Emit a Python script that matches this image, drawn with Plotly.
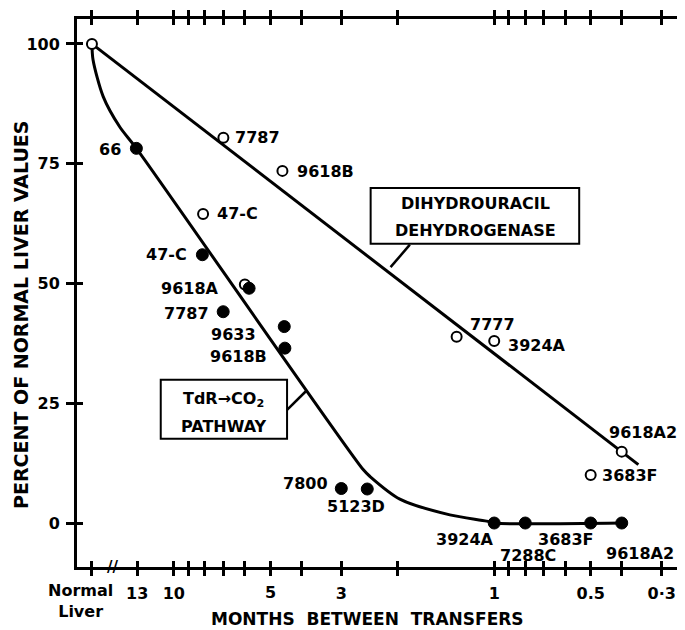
import numpy as np
import plotly.graph_objects as go

NORMAL = 18  # axis position used for "Normal Liver"

# Dihydrouracil dehydrogenase (open circles)
dhd_lines = ["Normal", "7787", "9618B", "47-C", "9618A", "7777", "3924A", "9618A2", "3683F"]
dhd_months = [NORMAL, 7.0, 4.58, 8.1, 6.0, 1.31, 1.0, 0.40, 0.50]
dhd_pct = [100, 80.4, 73.5, 64.5, 49.8, 38.9, 38.0, 14.9, 10.0]

# TdR -> CO2 pathway (filled circles)
tdr_lines = ["66", "47-C", "9618A", "7787", "9633", "9618B", "7800", "5123D",
             "3924A", "7288C", "3683F", "9618A2"]
tdr_months = [13.08, 8.14, 5.82, 7.01, 4.52, 4.50, 3.0, 2.49, 1.0, 0.80, 0.50, 0.40]
tdr_pct = [78.2, 56.0, 49.0, 44.1, 41.0, 36.5, 7.2, 7.1, 0, 0, 0, 0]

# drawn trend lines
dhd_fit_months = [NORMAL, 0.355]
dhd_fit_pct = [100, 12.2]
tdr_fit_months = [NORMAL, 17.86, 16.6, 14.75, 13.08, 2.56, 2.44, 1.97, 1.375, 1.056, 1.0, 0.4]
tdr_fit_pct = [100, 96.7, 89.0, 82.7, 78.2, 11.1, 9.7, 5.0, 1.7, 0.4, 0, 0]

# axes
x_tick_vals = [NORMAL, 13, 10, 9, 8, 7, 6, 5, 4, 3, 2, 1, 0.9, 0.8, 0.7, 0.6, 0.5, 0.4, 0.3]
x_tick_text = ["", "13", "10", "", "", "", "", "", "", "3", "", "1", "", "", "", "", "0.5", "", "0·3"]
x_extra_label_vals = [5]
x_extra_label_text = ["5"]
y_tick_vals = [0, 25, 50, 75, 100]
y_tick_text = ["0", "25", "50", "75", "100"]

# label placements (text, months, percent, anchor)
dhd_labels = [("7787", 6.53, 80.4, "left"), ("9618B", 4.19, 73.3, "left"),
              ("47-C", 7.45, 64.7, "left"), ("7777", 1.208, 41.4, "left"),
              ("3924A", 0.919, 37.1, "left"), ("9618A2", 0.445, 18.9, "left"),
              ("3683F", 0.468, 9.9, "left")]
tdr_labels = [("66", 14.45, 77.9, "right"), ("47-C", 8.96, 56.0, "right"),
              ("9618A", 7.10, 49.0, "right"), ("7787", 7.63, 43.8, "right"),
              ("9633", 5.47, 39.3, "right"), ("9618B", 5.05, 34.8, "right"),
              ("7800", 3.26, 8.3, "right"), ("5123D", 2.70, 3.5, "center"),
              ("3924A", 1.235, -3.4, "center"), ("7288C", 0.785, -6.7, "center"),
              ("3683F", 0.601, -3.5, "center"), ("9618A2", 0.351, -6.3, "center")]

FONT = "DejaVu Sans"
lab_font = dict(family=FONT, size=16, color="black", weight="bold")
L = np.log10

fig = go.Figure()
fig.add_trace(go.Scatter(x=dhd_fit_months, y=dhd_fit_pct, mode="lines",
                         line=dict(color="black", width=3), hoverinfo="skip"))
fig.add_trace(go.Scatter(x=tdr_fit_months, y=tdr_fit_pct, mode="lines",
                         line=dict(color="black", width=3, shape="spline", smoothing=0.8),
                         hoverinfo="skip"))
fig.add_trace(go.Scatter(x=dhd_months, y=dhd_pct, mode="markers", text=dhd_lines,
                         marker=dict(symbol="circle", size=10, color="white",
                                     line=dict(color="black", width=2))))
fig.add_trace(go.Scatter(x=tdr_months, y=tdr_pct, mode="markers", text=tdr_lines,
                         marker=dict(symbol="circle", size=12, color="black",
                                     line=dict(color="black", width=1))))
# invisible trace to anchor the tick-overlay axes
fig.add_trace(go.Scatter(x=[NORMAL], y=[100], xaxis="x2", yaxis="y2", mode="markers",
                         marker=dict(opacity=0), hoverinfo="skip"))

ann = []
for t, xm, yp, anc in dhd_labels + tdr_labels:
    ann.append(dict(x=L(xm), y=yp, xref="x", yref="y", text=t, showarrow=False,
                    xanchor=anc, yanchor="middle", font=lab_font))

for v, t in zip(x_extra_label_vals, x_extra_label_text):
    ann.append(dict(x=L(v), y=-0.0465, xref="x", yref="paper", text=t, showarrow=False,
                    xanchor="center", yanchor="middle", font=lab_font))

# boxes (shapes take raw axis values)
box_dhd = dict(x0=2.43, x1=0.543, y0=58.3, y1=69.9)
box_tdr = dict(x0=10.98, x1=4.43, y0=17.6, y1=29.9)
shapes = []
for b in (box_dhd, box_tdr):
    shapes.append(dict(type="rect", xref="x", yref="y", x0=b["x0"], x1=b["x1"],
                       y0=b["y0"], y1=b["y1"], line=dict(color="black", width=2),
                       fillcolor="rgba(0,0,0,0)", layer="above"))
shapes.append(dict(type="line", xref="x", yref="y", x0=1.833, y0=58.1, x1=2.106, y1=53.4,
                   line=dict(color="black", width=2.5)))
shapes.append(dict(type="line", xref="x", yref="y", x0=4.43, y0=23.6, x1=3.87, y1=27.5,
                   line=dict(color="black", width=2.5)))

ann.append(dict(x=L(1.147), y=66.6, xref="x", yref="y", text="DIHYDROURACIL", showarrow=False,
                font=lab_font, xanchor="center", yanchor="middle"))
ann.append(dict(x=L(1.147), y=61.0, xref="x", yref="y", text="DEHYDROGENASE", showarrow=False,
                font=lab_font, xanchor="center", yanchor="middle"))
ann.append(dict(x=L(6.97), y=25.7, xref="x", yref="y", text="TdR\u2192CO<sub>2</sub>", showarrow=False,
                font=lab_font, xanchor="center", yanchor="middle"))
ann.append(dict(x=L(6.97), y=20.2, xref="x", yref="y", text="PATHWAY", showarrow=False,
                font=lab_font, xanchor="center", yanchor="middle"))

# axis labels
ann.append(dict(x=0.0066, y=-0.062, xref="paper", yref="paper", text="Normal<br>Liver",
                showarrow=False, font=lab_font, xanchor="center", yanchor="middle"))
ann.append(dict(x=L(15.5), y=0, xref="x", yref="paper", text="//", showarrow=False,
                font=dict(family=FONT, size=15, color="black", weight="bold"),
                xanchor="center", yanchor="middle"))
ann.append(dict(x=0.48, y=-0.094, xref="paper", yref="paper", text="MONTHS  BETWEEN  TRANSFERS",
                showarrow=False, font=dict(family=FONT, size=17, color="black", weight="bold"),
                xanchor="center", yanchor="middle"))
ann.append(dict(x=-0.0924, y=0.46, xref="paper", yref="paper",
                text="PERCENT OF NORMAL LIVER VALUES", textangle=-90, showarrow=False,
                font=dict(family=FONT, size=19, color="black", weight="bold"),
                xanchor="center", yanchor="middle"))

xr = [1.3019, -0.5891]
yr = [-9.18, 105.2]
common_x = dict(type="log", range=xr, tickvals=x_tick_vals, showgrid=False, zeroline=False,
                tickcolor="black", tickwidth=2.5, ticklen=6, linecolor="black", linewidth=3,
                showline=True, mirror="allticks", automargin=False)
common_y = dict(range=yr, tickvals=y_tick_vals, showgrid=False, zeroline=False,
                tickcolor="black", tickwidth=2.5, linecolor="black", linewidth=3,
                showline=True, mirror="allticks", automargin=False)

# the page keeps the browser's default 8px body margin, so the figure is sized to fit
fig.update_layout(
    width=677, height=622,
    margin=dict(l=69, r=2, t=11, b=63),
    plot_bgcolor="white", paper_bgcolor="white",
    showlegend=False,
    hovermode=False,
    xaxis=dict(**common_x, ticks="outside", ticktext=x_tick_text,
               tickfont=lab_font, ticklabelstandoff=4),
    yaxis=dict(**common_y, ticks="outside", ticklen=8, ticktext=y_tick_text,
               tickfont=lab_font, ticklabelstandoff=3),
    xaxis2=dict(**common_x, ticks="inside", overlaying="x", anchor="y2", showticklabels=False),
    yaxis2=dict(**common_y, ticks="inside", ticklen=6, overlaying="y", anchor="x2",
                showticklabels=False),
    annotations=ann,
    shapes=shapes,
)

fig.write_html("out.html", config={"displayModeBar": False})
